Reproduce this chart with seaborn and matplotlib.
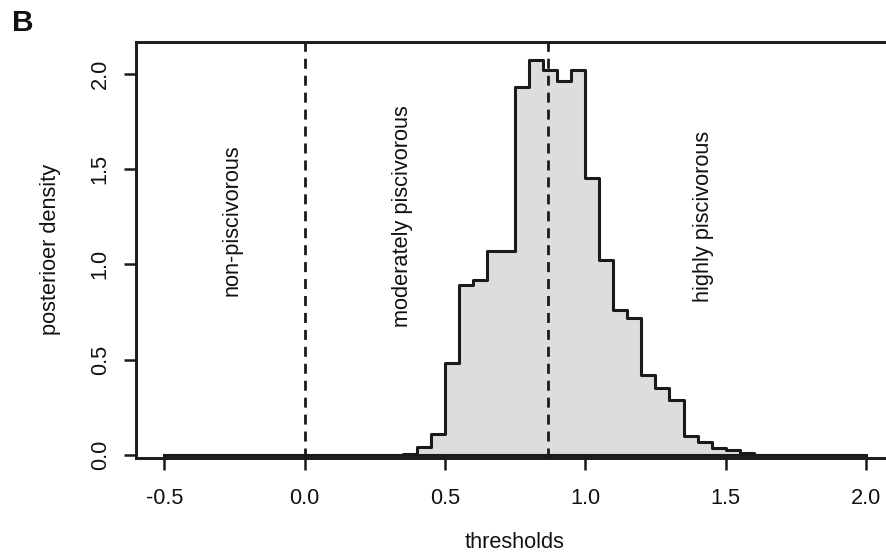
import numpy as np
import pandas as pd
import seaborn as sns
import matplotlib.pyplot as plt

# Histogram bins (width 0.05, from -0.5 to 2.0)
bin_edges = np.linspace(-0.5, 2.0, 51)
bin_mid = (bin_edges[:-1] + bin_edges[1:]) / 2

# Posterior density of each bin
density = [
    0, 0, 0, 0, 0, 0, 0, 0, 0, 0,            # -0.50 .. -0.05
    0, 0, 0, 0, 0, 0, 0, 0.005, 0.04, 0.11,  #  0.00 ..  0.45
    0.48, 0.89, 0.92, 1.07, 1.07, 1.93, 2.07, 2.02, 1.96, 2.02,  # 0.50 .. 0.95
    1.45, 1.02, 0.76, 0.72, 0.42, 0.35, 0.29, 0.10, 0.07, 0.035,  # 1.00 .. 1.45
    0.026, 0.012, 0, 0, 0, 0, 0, 0, 0, 0,    #  1.50 ..  1.95
]

# Class thresholds (dashed lines)
thresholds = [0.0, 0.866]

# Region labels
region_labels = ["non-piscivorous", "moderately piscivorous", "highly piscivorous"]
label_x = [-0.26, 0.347, 1.42]
label_y = [1.23, 1.25, 1.25]

x_ticks = [-0.5, 0.0, 0.5, 1.0, 1.5, 2.0]
x_tick_labels = ["-0.5", "0.0", "0.5", "1.0", "1.5", "2.0"]
y_ticks = [0.0, 0.5, 1.0, 1.5, 2.0]
y_tick_labels = ["0.0", "0.5", "1.0", "1.5", "2.0"]

df = pd.DataFrame({"mid": bin_mid, "density": density})

sns.set_style("ticks")
plt.rcParams["font.family"] = ["Liberation Sans", "DejaVu Sans"]
plt.rcParams["axes.unicode_minus"] = False
plt.rcParams["lines.scale_dashes"] = False

line_col = "#1a1a1a"
fs = 15.7

fig = plt.figure(figsize=(8.87, 5.57), dpi=100)
W, H = 887, 557
left, right, top, bottom = 135.7, 894, 41.7, 457.7
ax = fig.add_axes([left / W, 1 - bottom / H, (right - left) / W, (bottom - top) / H])

sns.histplot(data=df, x="mid", weights="density", binwidth=0.05, binrange=(-0.5, 2.0),
             stat="count", element="step", fill=True, facecolor="#dcdede",
             edgecolor=line_col, linewidth=2.2, ax=ax)

for t in thresholds:
    ax.axvline(t, color=line_col, linewidth=2.0, dashes=(7.2, 5.0), zorder=3)

for txt, lx, ly in zip(region_labels, label_x, label_y):
    ax.text(lx, ly, txt, rotation=90, ha="center", va="center", fontsize=fs, color="#111111")

ax.set_xlim(-0.602, 2.1)
ax.set_ylim(-0.014, 2.167)

ax.set_xticks(x_ticks)
ax.set_xticklabels(x_tick_labels)
ax.set_yticks(y_ticks)
ax.set_yticklabels(y_tick_labels, rotation=90, va="center")
ax.tick_params(axis="both", direction="out", length=8.9, width=1.8, color=line_col,
               labelsize=fs, labelcolor="#111111")
ax.tick_params(axis="x", pad=13)
ax.tick_params(axis="y", pad=9)

for sp in ax.spines.values():
    sp.set_linewidth(2.1)
    sp.set_color(line_col)

ax.set_xlabel("thresholds", fontsize=fs, color="#111111", va="center")
ax.xaxis.set_label_coords(0.5, -0.205)
ax.set_ylabel("posterioer density", fontsize=fs, color="#111111", va="center")
ax.yaxis.set_label_coords(-0.112, 0.5)

fig.text(11.7 / W, 1 - 9 / H, "B", fontsize=21.5, fontweight="bold", ha="left", va="top",
         color="#111111")

fig.savefig("out.png", dpi=100)
